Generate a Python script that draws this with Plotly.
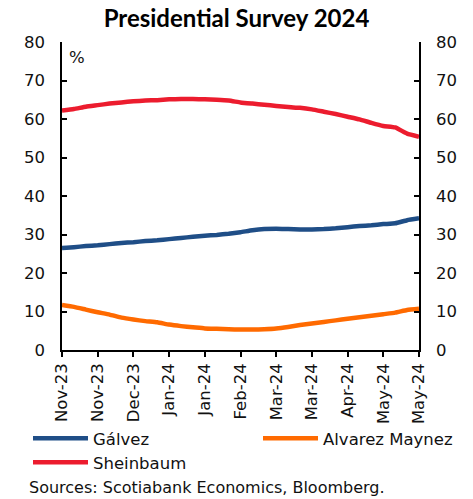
import pandas as pd
import plotly.graph_objects as go

# Weekly poll averages, Nov 2023 - May 2024 (%)
week_start = "2023-11-01"
n_weeks = 31
dates = pd.date_range(week_start, periods=n_weeks, freq="7D")

galvez = [26.5, 26.7, 27.0, 27.2, 27.5, 27.8, 28.0, 28.3, 28.5, 28.8,
          29.1, 29.4, 29.7, 29.9, 30.2, 30.6, 31.1, 31.4, 31.5, 31.4,
          31.3, 31.3, 31.4, 31.6, 31.9, 32.2, 32.4, 32.7, 32.9, 33.7, 34.2]
alvarez = [11.7, 11.2, 10.5, 9.8, 9.2, 8.4, 7.9, 7.5, 7.2, 6.6,
           6.2, 5.9, 5.6, 5.5, 5.4, 5.3, 5.3, 5.4, 5.6, 6.0,
           6.5, 6.9, 7.3, 7.7, 8.1, 8.5, 8.9, 9.3, 9.7, 10.4, 10.7]
sheinbaum = [62.2, 62.6, 63.2, 63.6, 64.0, 64.3, 64.6, 64.8, 64.9, 65.1,
             65.2, 65.2, 65.1, 65.0, 64.8, 64.3, 64.0, 63.7, 63.4, 63.1,
             62.9, 62.5, 61.9, 61.3, 60.6, 59.9, 59.0, 58.2, 57.8, 56.2, 55.4]

series_names = ["Gálvez", "Alvarez Maynez", "Sheinbaum"]
series_colors = ["#1F4E87", "#FF6A00", "#EC1C2E"]
series_legends = ["legend", "legend2", "legend3"]

tick_dates = pd.date_range(week_start, periods=11, freq="21D")
y_ticks = [0, 10, 20, 30, 40, 50, 60, 70, 80]

FONT = "DejaVu Sans"
TITLE_FONT = "Lato"
W, H = 473, 499

fig = go.Figure()
for name, vals, col, lg in zip(series_names, [galvez, alvarez, sheinbaum],
                               series_colors, series_legends):
    fig.add_trace(go.Scatter(x=dates, y=vals, name=name, mode="lines", legend=lg,
                             line=dict(color=col, width=4.5, shape="spline", smoothing=0.4)))

# mirror axis on the right
fig.add_trace(go.Scatter(x=dates[:1], y=[None], yaxis="y2", showlegend=False,
                         hoverinfo="skip"))

axis_font = dict(family=FONT, size=16.5, color="#111111")
axis_common = dict(range=[0, 80], tickvals=y_ticks, ticks="inside", ticklen=5,
                   tickwidth=1.5, tickcolor="black", showline=True, linecolor="black",
                   linewidth=1.5, showgrid=False, zeroline=False, tickfont=axis_font,
                   ticklabelstandoff=12, automargin=False)


def legend_box(x_px, top_px):
    return dict(x=x_px / W, xref="container", xanchor="left",
                y=1 - top_px / H, yref="container", yanchor="top",
                itemwidth=55, bgcolor="rgba(0,0,0,0)",
                font=dict(family=FONT, size=16.5, color="#111111"))


fig.update_layout(
    width=W, height=H,
    margin=dict(l=62, r=54, t=42, b=149, autoexpand=False),
    paper_bgcolor="white", plot_bgcolor="white",
    font=dict(family=FONT, color="#111111"),
    title=dict(text="<b>Presidential Survey 2024</b>", x=0.5, xref="container",
               y=1 - 19 / H, yref="container", yanchor="middle",
               font=dict(family=TITLE_FONT, size=24, color="#000000")),
    xaxis=dict(type="date", range=[dates[0], dates[-1]],
               tickvals=tick_dates, tickformat="%b-%y", tickangle=-90,
               ticks="outside", ticklen=5, tickwidth=1.5, tickcolor="black",
               showline=True, linecolor="black", linewidth=1.5,
               showgrid=False, zeroline=False, tickfont=axis_font, automargin=False),
    yaxis=axis_common,
    yaxis2=dict(axis_common, overlaying="y", side="right"),
    legend=legend_box(28, 421),
    legend2=legend_box(258, 421),
    legend3=legend_box(28, 445),
    showlegend=True,
)

fig.add_annotation(text="%", xref="paper", yref="paper", x=0.015, y=0.951,
                   xanchor="left", yanchor="middle", showarrow=False,
                   font=dict(family=FONT, size=16.5, color="#111111"))
fig.add_annotation(text="Sources: Scotiabank Economics, Bloomberg.", xref="paper",
                   yref="paper", x=-0.097, y=-0.448, xanchor="left", yanchor="middle",
                   showarrow=False, font=dict(family=FONT, size=16, color="#111111"))

fig.write_html("out.html")
